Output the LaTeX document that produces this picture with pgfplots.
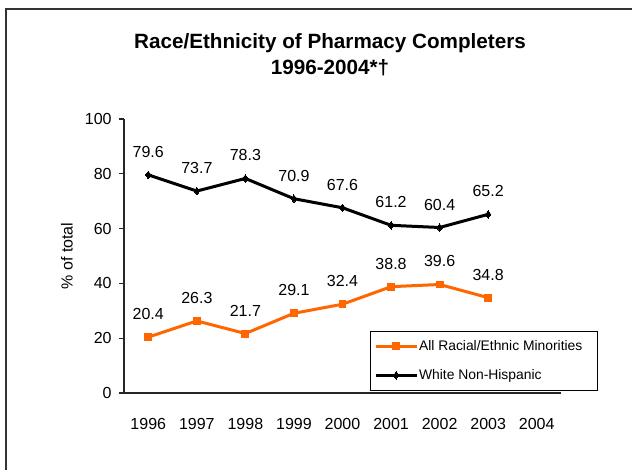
\documentclass[border=0pt]{standalone}
\usepackage{fontspec}
\setmainfont{Liberation Sans}
\usepackage{pgfplots}
\pgfplotsset{compat=1.18}
\definecolor{minor}{HTML}{FF6600}
\begin{document}
\begin{tikzpicture}
% 1px = 0.75pt; axis box from (124,393) to (561,119) in px
\useasboundingbox (-93pt,-57.75pt) rectangle (381pt,294.75pt);
\draw[line width=1.1pt, black!80] (-88.5pt,-60pt) -- (-88.5pt,288pt) -- (385pt,288pt);
\node[align=center, font=\fontsize{15.5}{19.5}\selectfont\bfseries] at (154.5pt,253.5pt)
  {Race/Ethnicity of Pharmacy Completers\\1996-2004*†};
\begin{axis}[
    scale only axis,
    width=327.75pt, height=205.5pt,
    /pgf/number format/assume math mode=true,
    xmin=-0.5, xmax=8.5,
    ymin=0, ymax=100,
    xtick={0,1,2,3,4,5,6,7,8},
    xticklabels={1996,1997,1998,1999,2000,2001,2002,2003,2004},
    ytick={0,20,40,60,80,100},
    axis x line=bottom, axis y line=left,
    axis line style={-, line width=0.8pt, black!85},
    tick align=outside,
    x tick style={draw=none},
    y tick style={line width=0.8pt, black!85},
    major tick length=3.75pt,
    tick label style={font=\fontsize{12}{14}\selectfont},
    yticklabel style={xshift=-2pt},
    xticklabel style={anchor=center, yshift=-19.5pt},
    ylabel={\% of total},
    ylabel style={font=\fontsize{12}{14}\selectfont, at={(axis description cs:-0.1304,0.5)}, anchor=center},
    nodes near coords={\pgfmathprintnumber[fixed,precision=1,fixed zerofill]{\pgfplotspointmeta}},
    every node near coord/.append style={anchor=center, yshift=17.25pt, font=\fontsize{12}{14}\selectfont, text=black},
    legend style={
        at={(1.085,0.007)}, anchor=south east,
        draw=black, line width=0.6pt,
        font=\fontsize{10.4}{12}\selectfont,
        row sep=8.75pt, inner xsep=3pt, inner ysep=5pt,
        nodes={inner xsep=0.5pt},
        legend cell align=left,
    },
    legend image code/.code={
        \draw[#1, mark repeat=2, mark phase=2] plot coordinates {(0pt,0pt) (15.5pt,0pt) (31pt,0pt)};
    },
]
\addplot[color=minor, line width=2.25pt, mark=square*, mark size=2.6pt, mark options={solid, line width=0pt}]
coordinates {(0,20.4) (1,26.3) (2,21.7) (3,29.1) (4,32.4) (5,38.8) (6,39.6) (7,34.8)};
\addlegendentry{All Racial/Ethnic Minorities\hspace*{8pt}}
\addplot[color=black, line width=2.25pt, mark=diamond*, mark size=2.8pt, mark options={solid, line width=0pt}]
coordinates {(0,79.6) (1,73.7) (2,78.3) (3,70.9) (4,67.6) (5,61.2) (6,60.4) (7,65.2)};
\addlegendentry{White Non-Hispanic}
\end{axis}
\end{tikzpicture}
\end{document}
